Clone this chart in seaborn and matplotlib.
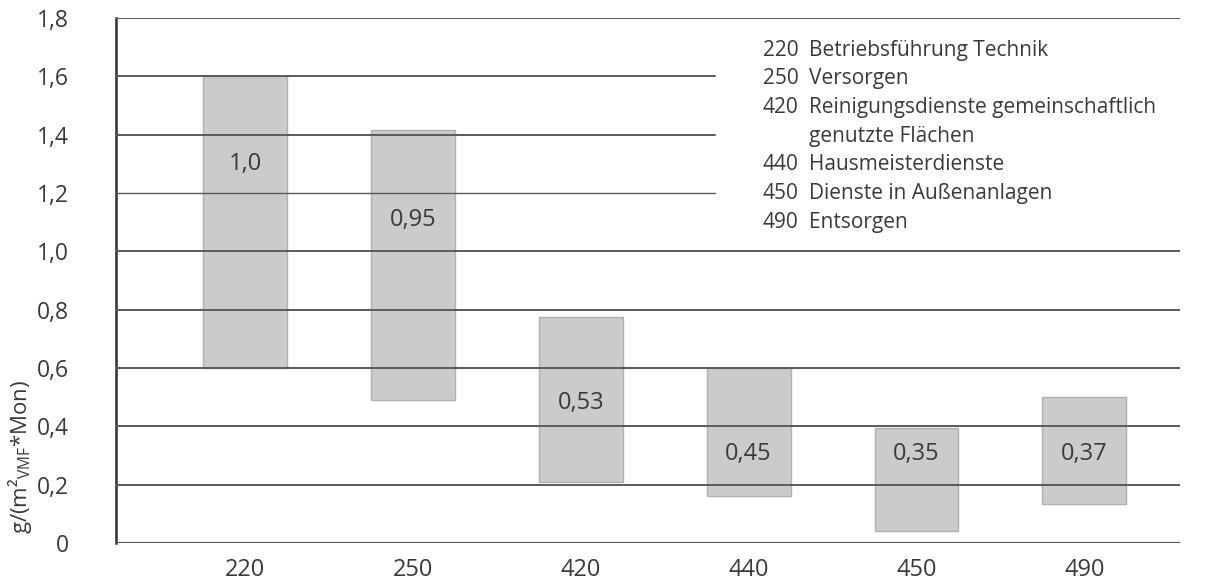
import matplotlib
matplotlib.use("Agg")
import matplotlib.pyplot as plt
import seaborn as sns

# Kostengruppen, Spannweiten (min/max) und Mittelwerte
codes = ["220", "250", "420", "440", "450", "490"]
low = [0.60, 0.49, 0.21, 0.16, 0.04, 0.135]
high = [1.60, 1.415, 0.775, 0.60, 0.395, 0.50]
means = ["1,0", "0,95", "0,53", "0,45", "0,35", "0,37"]

legend_codes = ["220", "250", "420", "", "440", "450", "490"]
legend_names = ["Betriebsführung Technik", "Versorgen",
                "Reinigungsdienste gemeinschaftlich", "genutzte Flächen",
                "Hausmeisterdienste", "Dienste in Außenanlagen", "Entsorgen"]

yticks = [0, 0.2, 0.4, 0.6, 0.8, 1.0, 1.2, 1.4, 1.6, 1.8]
ytick_labels = ["0", "0,2", "0,4", "0,6", "0,8", "1,0", "1,2", "1,4", "1,6", "1,8"]

sns.set_style("white")
plt.rcParams["font.family"] = ["Open Sans", "DejaVu Sans"]
txt = "#3a3a3a"
line = "#5a5a5a"

fig = plt.figure(figsize=(12.08, 5.8), dpi=100)
ax = fig.add_axes([0.096, 0.0638, 0.8808, 0.9052])

spans = [h - l for h, l in zip(high, low)]
sns.barplot(x=codes, y=spans, color="#cbcbcd", width=0.5, saturation=1,
            edgecolor="#b0b0b0", linewidth=1, ax=ax, zorder=2)
for patch, lo in zip(ax.patches, low):
    patch.set_y(lo)

# gridlines on top of the bars; upper ones stop before the legend text
for y in yticks[1:-1]:
    xmax = 0.563 if y > 1.1 else 1
    lw = 1.0 if y == 1.2 else 1.4
    ax.axhline(y, xmin=0, xmax=xmax, color=line, lw=lw, zorder=3)
ax.axhline(1.8, color=line, lw=1.4, zorder=3)
ax.axhline(0, color=line, lw=1.6, zorder=3)

# mean labels inside the bars
label_y = [1.30, 1.107, 0.48, 0.305, 0.305, 0.305]
for i, (m, yy) in enumerate(zip(means, label_y)):
    ax.text(i, yy, m, ha="center", va="center", fontsize=17, color=txt, zorder=4)

ax.set_xlim(-0.77, 5.57)
ax.set_ylim(0, 1.8)
ax.set_yticks(yticks)
ax.set_yticklabels(ytick_labels, fontsize=16.5, color=txt)
ax.tick_params(axis="y", length=0, pad=34)
ax.tick_params(axis="x", length=0, pad=11, labelsize=17, labelcolor=txt)
ax.set_ylabel("g/(m²$_{\\mathregular{VMF}}$*Mon)", fontsize=16, color=txt)
ax.yaxis.set_label_coords(-0.077, 0.165)

for side in ["top", "right", "bottom"]:
    ax.spines[side].set_visible(False)
ax.spines["left"].set_color("#303030")
ax.spines["left"].set_linewidth(1.8)

# legend text block
y0 = 0.939
step = 0.0547
for k, (c, n) in enumerate(zip(legend_codes, legend_names)):
    yy = y0 - k * step
    ax.text(0.608, yy, c, transform=ax.transAxes, ha="left", va="center",
            fontsize=15, color=txt)
    ax.text(0.651, yy, n, transform=ax.transAxes, ha="left", va="center",
            fontsize=15, color=txt)

fig.savefig("out.png", dpi=100)
